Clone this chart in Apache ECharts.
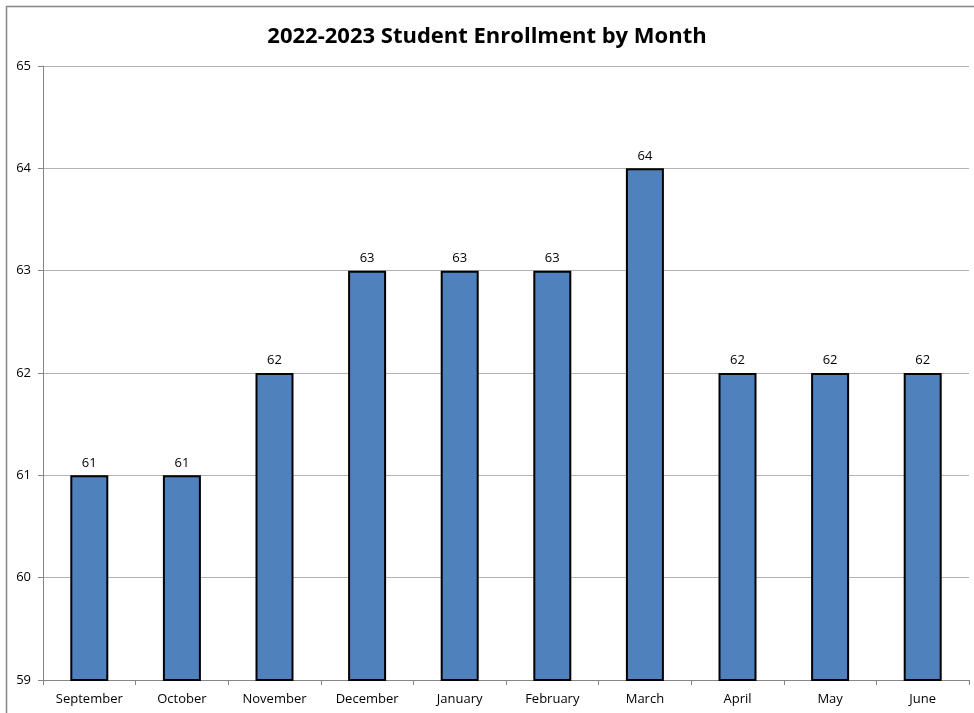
<!DOCTYPE html>
<html>
<head>
<meta charset="utf-8">
<script src="https://cdn.jsdelivr.net/npm/echarts@6/dist/echarts.min.js"></script>
<style>
  html, body { margin: 0; padding: 0; background: #fff; }
  #chart { width: 974px; height: 713px; }
</style>
</head>
<body>
<div id="chart"></div>
<script>
// Monthly enrollment counts for the 2022-2023 school year
const months = ['September', 'October', 'November', 'December', 'January', 'February', 'March', 'April', 'May', 'June'];
const enrollment = [61, 61, 62, 63, 63, 63, 64, 62, 62, 62];
const yMin = 59;
const yMax = 65;

const chart = echarts.init(document.getElementById('chart'), null, { renderer: 'canvas' });
const font = '"Open Sans", "Noto Sans", sans-serif';

chart.setOption({
  animation: false,
  backgroundColor: '#ffffff',
  title: {
    text: '2022-2023 Student Enrollment by Month',
    left: 'center',
    top: 21,
    textStyle: { fontFamily: font, fontWeight: 'bold', fontSize: 22, color: '#000' }
  },
  // chart frame: only the left and top edges fall inside the canvas
  graphic: [{
    type: 'polyline',
    shape: { points: [[6.5, 713], [6.5, 6.5], [974, 6.5]] },
    style: { fill: null, stroke: '#868686', lineWidth: 1.5 },
    silent: true
  }],
  grid: { left: 43, right: 5, top: 66, bottom: 33, containLabel: false },
  xAxis: {
    type: 'category',
    data: months,
    axisLine: { show: true, lineStyle: { color: '#868686', width: 1 } },
    axisTick: { show: true, alignWithLabel: false, length: 5, lineStyle: { color: '#868686' } },
    axisLabel: { fontFamily: font, fontSize: 13, color: '#000', margin: 13 },
    splitLine: { show: false }
  },
  yAxis: {
    type: 'value',
    min: yMin,
    max: yMax,
    interval: 1,
    axisLine: { show: true, lineStyle: { color: '#868686', width: 1 } },
    axisTick: { show: true, length: 5, lineStyle: { color: '#868686' } },
    axisLabel: { fontFamily: font, fontSize: 13, color: '#000', margin: 12 },
    splitLine: { show: true, lineStyle: { color: '#b3b3b3', width: 1 } }
  },
  series: [{
    type: 'bar',
    data: enrollment,
    barWidth: 38,
    itemStyle: { color: '#4f81bd', borderColor: '#000', borderWidth: 2 },
    label: {
      show: true,
      position: 'top',
      distance: 6,
      fontFamily: font,
      fontSize: 13,
      color: '#000'
    }
  }]
});
</script>
</body>
</html>
